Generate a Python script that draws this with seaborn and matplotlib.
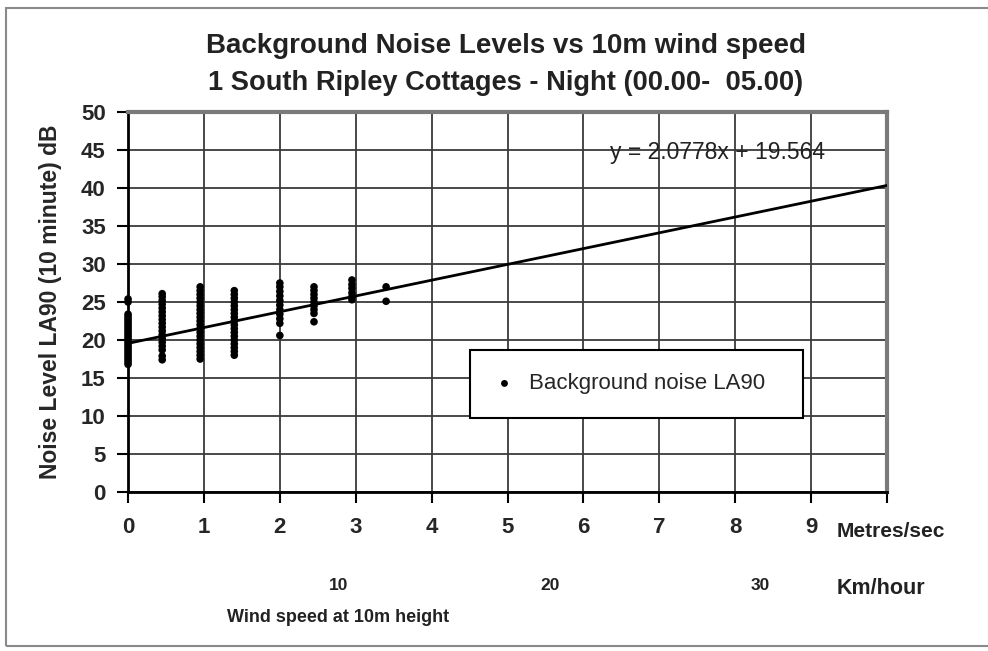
import numpy as np
import pandas as pd
import matplotlib
matplotlib.use('Agg')
import matplotlib.pyplot as plt
import seaborn as sns
from matplotlib.patches import Rectangle

# Wind speed columns (m/s) and the noise readings (dB)
wind_speeds = [0.0, 0.45, 0.95, 1.4, 2.0, 2.45, 2.95, 3.4]
noise_0 = [16.8, 17.1, 17.4, 17.7, 18.0, 18.3, 18.6, 18.9, 19.2, 19.5, 19.8, 20.1,
           20.4, 20.7, 21.0, 21.3, 21.6, 21.9, 22.2, 22.5, 22.8, 23.1, 23.4, 25.0, 25.4]
noise_045 = [17.4, 17.9, 18.7, 19.2, 19.7, 20.2, 20.7, 21.2, 21.7, 22.2, 22.7,
             23.2, 23.7, 24.2, 24.7, 25.2, 25.7, 26.1]
noise_095 = [17.5, 18.0, 18.5, 19.0, 19.5, 20.0, 20.5, 21.0, 21.5, 22.0, 22.5,
             23.0, 23.5, 24.0, 24.5, 25.0, 25.5, 26.0, 26.5, 27.0]
noise_14 = [18.0, 18.5, 19.0, 19.5, 20.0, 20.5, 21.0, 21.5, 22.0, 22.5, 23.0,
            23.5, 24.0, 24.5, 25.0, 25.5, 26.0, 26.5]
noise_2 = [20.6, 22.2, 22.8, 23.4, 24.0, 24.6, 25.2, 25.8, 26.4, 27.0, 27.5]
noise_245 = [22.4, 23.5, 24.0, 24.5, 25.0, 25.5, 26.0, 26.5, 27.0]
noise_295 = [25.3, 25.7, 26.2, 26.8, 27.3, 27.9]
noise_34 = [25.1, 27.0]

# Linear trend shown on chart
slope = 2.0778
intercept = 19.564

x_ticks = [0, 1, 2, 3, 4, 5, 6, 7, 8, 9, 10]
x_tick_labels = ['0', '1', '2', '3', '4', '5', '6', '7', '8', '9', '']
y_ticks = [0, 5, 10, 15, 20, 25, 30, 35, 40, 45, 50]
kmh_labels = [10, 20, 30]

columns = [noise_0, noise_045, noise_095, noise_14, noise_2, noise_245, noise_295, noise_34]
data = pd.DataFrame({
    'wind': [w for w, col in zip(wind_speeds, columns) for _ in col],
    'noise': [v for col in columns for v in col],
})

sns.set_style('white')
plt.rcParams['font.family'] = ['Liberation Sans', 'DejaVu Sans']

fig = plt.figure(figsize=(9.88, 6.51), dpi=100)
ax = fig.add_axes([0.1296, 0.2442, 0.7682, 0.5837])

# outer frame of the picture
fig.patches.append(Rectangle((0.006, 0.008), 1.1, 0.98, transform=fig.transFigure,
                             fill=False, edgecolor='#8a8a8a', lw=1.5))

ax.set_xlim(0, 10)
ax.set_ylim(0, 50)
ax.set_xticks(x_ticks)
ax.set_yticks(y_ticks)
ax.grid(True, color='#3a3a3a', lw=1.3)
ax.set_axisbelow(True)

sns.scatterplot(data=data, x='wind', y='noise', color='black', s=30,
                edgecolor='none', ax=ax, label='Background noise LA90', zorder=3,
                clip_on=False)

trend_x = np.array([0, 10])
sns.lineplot(x=trend_x, y=slope * trend_x + intercept, color='black', lw=2,
             ax=ax, zorder=4, legend=False)

ax.text(6.35, 44.7, 'y = 2.0778x + 19.564', fontsize=16.5, va='center', color='#222222')

for side in ['left', 'bottom']:
    ax.spines[side].set_color('black')
    ax.spines[side].set_linewidth(2)
for side in ['top', 'right']:
    ax.spines[side].set_color('#7a7a7a')
    ax.spines[side].set_linewidth(3)

ax.tick_params(axis='both', direction='out', length=8, width=1.5, color='black',
               labelsize=16, bottom=True, left=True)
ax.tick_params(axis='x', pad=10)
ax.tick_params(axis='y', pad=8)
ax.set_xticklabels(x_tick_labels, fontweight='bold')
ax.set_yticklabels([str(t) for t in y_ticks], fontweight='bold')

ax.set_ylabel('Noise Level LA90 (10 minute) dB', fontsize=16.5, fontweight='bold', labelpad=14)
ax.set_xlabel('')

xt = ax.get_xaxis_transform()
ax.text(9.33, -0.105, 'Metres/sec', transform=xt, fontsize=15, fontweight='bold',
        ha='left', va='center', color='#222222')
for k in kmh_labels:
    ax.text(k / 3.6, -0.245, str(k), transform=xt, fontsize=12.5, fontweight='bold',
            ha='center', va='center', color='#222222')
ax.text(9.33, -0.253, 'Km/hour', transform=xt, fontsize=15.5, fontweight='bold',
        ha='left', va='center', color='#222222')
ax.text(2.77, -0.33, 'Wind speed at 10m height', transform=xt, fontsize=13,
        fontweight='bold', ha='center', va='center', color='#222222')

fig.text(0.512, 0.929, 'Background Noise Levels vs 10m wind speed', fontsize=20,
         fontweight='bold', ha='center', va='center', color='#222222')
fig.text(0.512, 0.872, '1 South Ripley Cottages - Night (00.00-  05.00)', fontsize=19.6,
         fontweight='bold', ha='center', va='center', color='#222222')

leg = ax.legend(loc='upper left', bbox_to_anchor=(0.4506, 0.184, 0.4385, 0.19),
                mode='expand', borderaxespad=0, fontsize=16, frameon=True,
                fancybox=False, borderpad=1.05, handlelength=1.0,
                handletextpad=0.6, markerscale=0.9)
leg.get_frame().set_edgecolor('black')
leg.get_frame().set_linewidth(1.5)
leg.get_frame().set_alpha(1)

fig.savefig('out.png', dpi=100)
